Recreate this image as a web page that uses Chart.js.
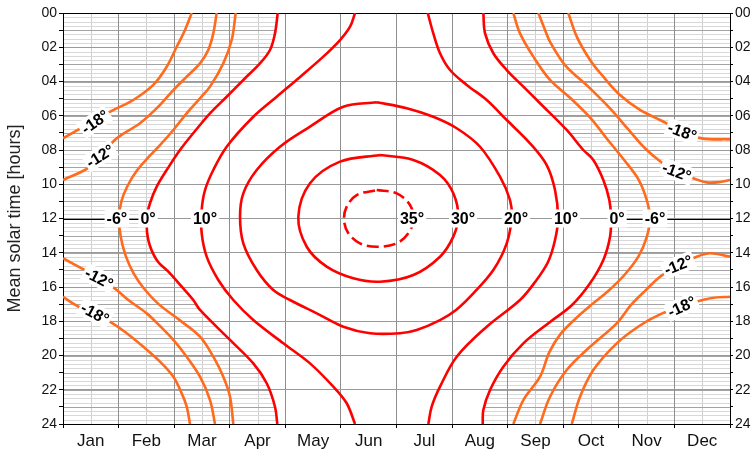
<!DOCTYPE html>
<html>
<head>
<meta charset="utf-8">
<script src="https://cdn.jsdelivr.net/npm/chart.js@4.4.1/dist/chart.umd.min.js"></script>
<style>
  html, body { margin: 0; padding: 0; background: #fff; }
  canvas { display: block; }
</style>
</head>
<body>
<canvas id="chart" width="751" height="453"></canvas>
<script>
// Sun elevation contours over the year: x = month (0 = 1 Jan, 12 = 31 Dec), y = mean solar time in hours.
const monthLabels = ['Jan', 'Feb', 'Mar', 'Apr', 'May', 'Jun', 'Jul', 'Aug', 'Sep', 'Oct', 'Nov', 'Dec'];
const hourLabels = ['00', '02', '04', '06', '08', '10', '12', '14', '16', '18', '20', '22', '24'];

// Each contour is a list of [month, hour] points.
const minus18UpperLeft = [[0, 7.32], [0.876, 5.72], [1.265, 5.08], [1.625, 4.20], [1.866, 3.14], [2.046, 1.97], [2.195, 0.99], [2.316, 0]];
const minus18LowerLeft = [[0, 16.57], [0.162, 16.93], [0.486, 17.52], [0.846, 18.03], [1.146, 18.70], [1.445, 19.49], [1.745, 20.36], [1.985, 21.24], [2.136, 22.21], [2.226, 22.99], [2.285, 24]];
const minus12UpperLeft = [[0, 9.75], [0.486, 8.97], [0.966, 7.32], [1.385, 6.44], [1.715, 5.47], [1.985, 4.50], [2.225, 3.72], [2.465, 2.94], [2.614, 2.16], [2.704, 1.19], [2.765, 0]];
const minus12LowerLeft = [[0, 14.32], [0.336, 14.91], [0.666, 15.47], [0.966, 16.18], [1.175, 16.76], [1.506, 17.54], [1.745, 18.28], [1.985, 19.09], [2.225, 20.07], [2.465, 21.24], [2.645, 22.60], [2.735, 24]];
const minus6Left = [[3.107, 0], [3.035, 1.58], [2.884, 2.94], [2.645, 4.30], [2.465, 4.98], [2.225, 5.86], [1.985, 6.83], [1.745, 7.72], [1.530, 8.45], [1.330, 9.20], [1.160, 10.10], [1.050, 11.00], [1.008, 12.00], [1.040, 13.10], [1.130, 14.20], [1.270, 15.20], [1.460, 16.10], [1.720, 17.00], [2.105, 17.95], [2.465, 18.90], [2.704, 20.07], [2.884, 21.24], [3.005, 22.41], [3.064, 24]];
const zeroLeft = [[3.863, 0], [3.814, 1.19], [3.724, 2.16], [3.544, 2.94], [3.244, 3.91], [2.945, 4.89], [2.645, 5.86], [2.465, 6.54], [2.105, 8.00], [1.866, 9.17], [1.686, 10.14], [1.565, 11.11], [1.506, 11.99], [1.535, 13.26], [1.686, 14.42], [1.925, 15.20], [2.136, 15.98], [2.344, 16.76], [2.465, 17.34], [3.005, 19.09], [3.424, 20.46], [3.665, 21.62], [3.814, 22.99], [3.856, 24]];
const tenLeft = [[5.254, 0], [5.164, 0.80], [4.984, 1.58], [4.683, 2.55], [4.270, 3.72], [3.845, 4.89], [3.424, 6.06], [2.945, 7.81], [2.704, 9.17], [2.555, 10.34], [2.495, 11.50], [2.495, 12.86], [2.585, 14.23], [2.794, 15.59], [3.064, 16.76], [3.424, 17.93], [3.964, 19.29], [4.444, 20.46], [4.863, 21.82], [5.104, 22.79], [5.254, 24]];
const twenty = [[5.644, 5.21], [6.184, 5.56], [6.662, 6.06], [7.083, 6.73], [7.503, 7.81], [7.862, 9.56], [8.042, 10.92], [8.073, 11.89], [7.983, 13.45], [7.742, 15.01], [7.382, 16.37], [7.071, 17.34], [6.783, 17.93], [6.364, 18.51], [6.063, 18.70], [5.523, 18.70], [5.043, 18.32], [4.565, 17.54], [4.084, 16.76], [3.784, 16.18], [3.485, 15.01], [3.244, 13.45], [3.185, 11.89], [3.244, 10.53], [3.485, 9.17], [3.904, 7.81], [4.444, 6.64], [5.043, 5.47], [5.644, 5.21]];
const thirty = [[5.703, 8.29], [6.303, 8.58], [6.783, 9.46], [7.022, 10.53], [7.112, 11.89], [7.022, 13.06], [6.783, 14.23], [6.303, 15.30], [5.703, 15.69], [5.223, 15.49], [4.744, 14.81], [4.385, 13.65], [4.234, 11.89], [4.444, 9.94], [4.984, 8.68], [5.703, 8.29]];
const thirtyFive = [[5.644, 10.34], [6.004, 10.53], [6.243, 11.21], [6.303, 12.09], [6.213, 12.86], [6.004, 13.45], [5.644, 13.65], [5.343, 13.45], [5.133, 12.86], [5.056, 12.09], [5.104, 11.31], [5.284, 10.63], [5.644, 10.34]];
const tenRight = [[6.562, 0], [6.662, 1.19], [6.783, 2.35], [6.963, 3.33], [7.263, 4.20], [7.623, 5.08], [7.983, 6.25], [8.402, 7.61], [8.702, 8.88], [8.852, 10.34], [8.906, 11.97], [8.852, 13.26], [8.726, 14.54], [8.492, 15.71], [8.222, 16.76], [7.623, 18.32], [7.083, 20.07], [6.783, 21.82], [6.633, 22.99], [6.573, 24]];
const zeroRight = [[7.562, 0], [7.593, 1.19], [7.742, 2.35], [7.983, 3.33], [8.282, 4.30], [8.582, 5.27], [9.062, 6.83], [9.361, 8.00], [9.541, 8.58], [9.721, 9.75], [9.829, 10.92], [9.860, 11.97], [9.842, 13.06], [9.721, 14.42], [9.482, 15.78], [9.158, 17.05], [8.762, 18.04], [8.282, 19.29], [7.922, 20.65], [7.683, 22.01], [7.562, 23.18], [7.551, 24]];
const minus6Right = [[8.102, 0], [8.222, 1.19], [8.462, 2.55], [8.762, 3.91], [9.122, 4.95], [9.480, 6.10], [9.800, 7.40], [10.100, 8.60], [10.350, 9.70], [10.500, 10.90], [10.561, 12.00], [10.500, 13.10], [10.351, 14.23], [10.100, 15.30], [9.820, 16.20], [9.520, 17.00], [9.220, 17.85], [8.950, 18.75], [8.750, 19.80], [8.582, 21.24], [8.282, 22.60], [8.102, 24]];
const minus12UpperRight = [[8.552, 0], [8.672, 0.99], [8.762, 1.68], [9.032, 3.04], [9.450, 4.30], [9.850, 5.60], [10.170, 6.80], [10.470, 7.90], [10.760, 8.70], [11.047, 9.28], [11.340, 9.65], [11.582, 9.89], [11.821, 9.87], [12, 9.75]];
const minus12LowerRight = [[12, 14.23], [11.641, 14.03], [11.402, 14.23], [11.065, 14.72], [10.741, 15.40], [10.480, 16.20], [10.220, 17.05], [9.962, 18.12], [9.482, 19.49], [9.062, 20.85], [8.762, 22.41], [8.582, 24]];
const minus18UpperRight = [[9.091, 0], [9.243, 1.38], [9.482, 2.74], [9.721, 3.72], [10.021, 4.79], [10.381, 5.66], [10.741, 6.25], [11.137, 6.89], [11.492, 7.32], [12, 7.38]];
const minus18LowerRight = [[12, 16.57], [11.677, 16.64], [11.371, 16.88], [11.065, 17.23], [10.741, 17.60], [10.381, 18.25], [9.962, 19.29], [9.541, 20.85], [9.302, 22.41], [9.153, 24]];

// Contour labels: text, month, hour, rotation in degrees.
const contourLabels = [
  ['-18°', 0.576, 6.35, -35], ['-12°', 0.666, 8.35, -32],
  ['-12°', 0.648, 15.49, 27], ['-18°', 0.576, 17.54, 28],
  ['-18°', 11.142, 6.93, 20], ['-12°', 11.042, 9.27, 20],
  ['-12°', 11.070, 14.72, -22], ['-18°', 11.132, 17.15, -25],
  ['-6°', 0.97, 12, 0], ['0°', 1.53, 12, 0], ['10°', 2.555, 12, 0],
  ['35°', 6.28, 12, 0], ['30°', 7.197, 12, 0], ['20°', 8.15, 12, 0],
  ['10°', 9.05, 12, 0], ['0°', 9.968, 12, 0], ['-6°', 10.65, 12, 0]
];

const FONT = '"Liberation Sans", Arial, Helvetica, sans-serif';
const RED = '#ff0000';
const ORANGE = '#ff6a1c';

const toPoints = arr => arr.map(([m, h]) => ({ x: m, y: h }));
const contour = (arr, color, dash) => ({
  data: toPoints(arr),
  showLine: true,
  borderColor: color,
  borderWidth: 2.6,
  borderDash: dash || [],
  pointRadius: 0,
  tension: 0.35,
  fill: false
});

// Horizontal hatching marks the hours with the sun below the horizon.
function nightPath(chart, curve, edge) {
  const { ctx, scales: { x, y } } = chart;
  ctx.beginPath();
  ctx.moveTo(x.getPixelForValue(edge), y.getPixelForValue(0));
  curve.forEach(([m, h]) => ctx.lineTo(x.getPixelForValue(m), y.getPixelForValue(h)));
  ctx.lineTo(x.getPixelForValue(edge), y.getPixelForValue(24));
  ctx.closePath();
}

const nightPlugin = {
  id: 'night',
  beforeDraw(chart) {
    const { ctx, chartArea: a, scales: { x, y } } = chart;
    [[zeroLeft, 0], [zeroRight, 12]].forEach(([curve, edge]) => {
      ctx.save();
      nightPath(chart, curve, edge);
      ctx.clip();
      ctx.lineWidth = 1;
      for (let m = 0.5; m < 12; m += 1) {
        const px = Math.round(x.getPixelForValue(m)) + 0.5;
        ctx.strokeStyle = '#cfcfcf';
        ctx.beginPath(); ctx.moveTo(px, a.top); ctx.lineTo(px, a.bottom); ctx.stroke();
      }
      for (let q = 1; q < 96; q++) {
        const py = Math.round(y.getPixelForValue(q / 4)) + 0.5;
        ctx.strokeStyle = q % 4 ? '#d8d8d8' : '#a4a4a4';
        ctx.beginPath(); ctx.moveTo(a.left, py); ctx.lineTo(a.right, py); ctx.stroke();
      }
      ctx.restore();
    });
  },
  beforeDatasetsDraw(chart) {
    const { ctx, chartArea: a, scales: { y } } = chart;
    // noon line is drawn black across the night areas
    [[zeroLeft, 0], [zeroRight, 12]].forEach(([curve, edge]) => {
      ctx.save();
      nightPath(chart, curve, edge);
      ctx.clip();
      const py = Math.round(y.getPixelForValue(12)) + 0.5;
      ctx.strokeStyle = '#000';
      ctx.lineWidth = 1;
      ctx.beginPath(); ctx.moveTo(a.left, py); ctx.lineTo(a.right, py); ctx.stroke();
      ctx.restore();
    });
    ctx.save();
    ctx.strokeStyle = '#000';
    ctx.lineWidth = 1;
    ctx.beginPath();
    ctx.moveTo(a.left, Math.round(a.top) + 0.5);
    ctx.lineTo(a.right, Math.round(a.top) + 0.5);
    ctx.stroke();
    ctx.restore();
  }
};

const labelPlugin = {
  id: 'contourLabels',
  afterDatasetsDraw(chart) {
    const { ctx, scales: { x, y } } = chart;
    ctx.save();
    ctx.font = 'bold 16px ' + FONT;
    ctx.textAlign = 'center';
    ctx.textBaseline = 'middle';
    contourLabels.forEach(([t, m, h, ang]) => {
      const w = ctx.measureText(t).width;
      ctx.save();
      ctx.translate(x.getPixelForValue(m), y.getPixelForValue(h));
      ctx.rotate(ang * Math.PI / 180);
      ctx.fillStyle = '#fff';
      ctx.fillRect(-w / 2 - 2, -9, w + 4, 18);
      ctx.fillStyle = '#000';
      ctx.fillText(t, 0, 1);
      ctx.restore();
    });
    ctx.restore();
  }
};

const hourTick = v => (v % 2 === 0 ? hourLabels[v / 2] : '');
const hourGrid = c => (c.tick && c.tick.value % 2 === 0 ? '#9a9a9a' : 'rgba(0,0,0,0)');

new Chart(document.getElementById('chart'), {
  type: 'scatter',
  data: {
    datasets: [
      contour(minus18UpperLeft, ORANGE), contour(minus18LowerLeft, ORANGE),
      contour(minus12UpperLeft, ORANGE), contour(minus12LowerLeft, ORANGE),
      contour(minus6Left, ORANGE), contour(zeroLeft, RED), contour(tenLeft, RED),
      contour(twenty, RED), contour(thirty, RED), contour(thirtyFive, RED, [12, 5]),
      contour(tenRight, RED), contour(zeroRight, RED), contour(minus6Right, ORANGE),
      contour(minus12UpperRight, ORANGE), contour(minus12LowerRight, ORANGE),
      contour(minus18UpperRight, ORANGE), contour(minus18LowerRight, ORANGE)
    ]
  },
  options: {
    responsive: false,
    animation: false,
    layout: { padding: { top: 13, left: 0, right: 0, bottom: 0 } },
    plugins: { legend: { display: false }, tooltip: { enabled: false } },
    scales: {
      x: {
        type: 'linear', min: 0, max: 12,
        ticks: {
          stepSize: 1, autoSkip: false, maxRotation: 0, padding: 3,
          labelOffset: 27.8, color: '#111', font: { family: FONT, size: 17 },
          callback: v => monthLabels[v] || ''
        },
        grid: { color: '#8e8e8e', tickColor: '#000', tickLength: 4, lineWidth: 1 },
        border: { color: '#000', width: 1 },
        afterFit: s => { s.height = 29; }
      },
      y: {
        type: 'linear', position: 'left', reverse: true, min: 0, max: 24,
        ticks: {
          stepSize: 1, autoSkip: false, padding: 2, color: '#111',
          font: { family: FONT, size: 14 }, callback: hourTick
        },
        grid: { color: hourGrid, tickColor: '#000', tickLength: 4, lineWidth: 1 },
        border: { color: '#000', width: 1 },
        title: {
          display: true, text: 'Mean solar time [hours]', color: '#222',
          font: { family: FONT, size: 18 }, padding: { top: 4, bottom: 4 }
        },
        afterFit: s => { s.width = 63; }
      },
      y2: {
        type: 'linear', position: 'right', reverse: true, min: 0, max: 24,
        ticks: {
          stepSize: 1, autoSkip: false, padding: 2, color: '#111',
          font: { family: FONT, size: 14 }, callback: hourTick
        },
        grid: { drawOnChartArea: false, tickColor: '#000', tickLength: 3 },
        border: { color: '#000', width: 1 },
        afterFit: s => { s.width = 21; }
      }
    }
  },
  plugins: [nightPlugin, labelPlugin]
});
</script>
</body>
</html>
